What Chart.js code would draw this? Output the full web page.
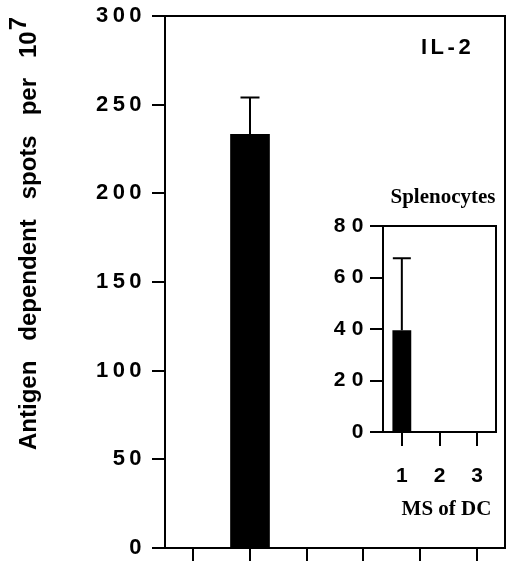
<!DOCTYPE html>
<html>
<head>
<meta charset="utf-8">
<script src="https://cdn.jsdelivr.net/npm/chart.js@4.4.0/dist/chart.umd.min.js"></script>
<style>
  body { margin: 0; background: #fff; }
  #wrap { position: relative; width: 506px; height: 561px; }
  #main { position: absolute; left: 0; top: 0; }
  #inset { position: absolute; left: 320px; top: 180px; }
</style>
</head>
<body>
<div id="wrap">
  <canvas id="main" width="506" height="561"></canvas>
  <canvas id="inset" width="186" height="345"></canvas>
</div>
<script>
// main panel (IL-2): six groups on the x axis, only the second one responds
const mainCategories = ["g1", "g2", "g3", "g4", "g5", "g6"];
const mainValues = [null, 233.5, null, null, null, null];
const mainErrTop = [null, 254, null, null, null, null];
const mainTicks = [0, 50, 100, 150, 200, 250, 300];

// inset: splenocytes, MS of DC
const insetCategories = ["1", "2", "3"];
const insetValues = [39.5, null, null];
const insetErrTop = [67.5, null, null];
const insetTicks = [0, 20, 40, 60, 80];

const sans = "'Liberation Sans', Arial, Helvetica, sans-serif";
const serif = "'Liberation Serif', 'Times New Roman', serif";

// canvas gets reset on resize, so set the tick letter spacing before layout and draw
const spacing = {
    id: "spacing",
    beforeUpdate(chart, args, opts) { chart.ctx.letterSpacing = opts.px + "px"; },
    beforeDraw(chart, args, opts) { chart.ctx.letterSpacing = opts.px + "px"; }
};

// one-sided (upper) error bars with a cap
const errorBars = {
    id: "errorBars",
    afterDatasetsDraw(chart, args, opts) {
        const ctx = chart.ctx;
        const y = chart.scales.y;
        const vals = chart.data.datasets[0].data;
        const meta = chart.getDatasetMeta(0);
        ctx.save();
        ctx.strokeStyle = "#000";
        ctx.lineWidth = 2;
        meta.data.forEach((bar, i) => {
            if (opts.tops[i] == null || vals[i] == null) return;
            const yTop = y.getPixelForValue(opts.tops[i]);
            const yVal = y.getPixelForValue(vals[i]);
            ctx.beginPath();
            ctx.moveTo(bar.x, yVal);
            ctx.lineTo(bar.x, yTop);
            ctx.moveTo(bar.x - opts.cap, yTop);
            ctx.lineTo(bar.x + opts.cap, yTop);
            ctx.stroke();
        });
        ctx.restore();
    }
};

// free text: drawn without the tick letter spacing
const labels = {
    id: "labels",
    afterDraw(chart, args, opts) {
        const ctx = chart.ctx;
        ctx.save();
        ctx.fillStyle = "#000";
        opts.items.forEach(t => {
            ctx.save();
            ctx.letterSpacing = (t.spacing || 0) + "px";
            ctx.font = t.font;
            ctx.textAlign = t.align || "left";
            ctx.textBaseline = "alphabetic";
            ctx.translate(t.x, t.y);
            if (t.rotate) ctx.rotate(t.rotate);
            ctx.fillText(t.text, 0, 0);
            if (t.sup) {
                const w = ctx.measureText(t.text).width;
                ctx.fillText(t.sup, w + 1, -10);
            }
            ctx.restore();
        });
        ctx.restore();
    }
};

const axisLine = { color: "#000", width: 2 };
const tickGrid = (len) => ({ offset: false, drawOnChartArea: false, tickLength: len, color: "#000", lineWidth: 2 });
const frameOnly = { grid: { display: false, drawTicks: false }, ticks: { display: false }, border: axisLine };
// no extra room for half labels, the frame is placed by the layout padding
const noPad = s => { s.paddingTop = 0; s.paddingBottom = 0; s.paddingLeft = 0; s.paddingRight = 0; };

new Chart(document.getElementById("main"), {
    type: "bar",
    data: {
        labels: mainCategories,
        datasets: [{ data: mainValues, backgroundColor: "#000", barPercentage: 0.7, categoryPercentage: 1 }]
    },
    options: {
        responsive: false,
        animation: false,
        layout: { padding: { top: 16, right: 1, left: 0, bottom: 0 } },
        plugins: {
            legend: { display: false },
            tooltip: { enabled: false },
            spacing: { px: 4.4 },
            errorBars: { tops: mainErrTop, cap: 9.5 },
            labels: {
                items: [
                    { text: "Antigen   dependent   spots   per   10", sup: "7", x: 36, y: 450, rotate: -Math.PI / 2, font: "bold 24px " + sans },
                    { text: "IL-2", x: 421, y: 54, spacing: 3.5, font: "bold 22px " + sans }
                ]
            }
        },
        scales: {
            x: {
                afterFit: s => { noPad(s); s.height = 13; },
                grid: tickGrid(13),
                border: axisLine,
                ticks: { display: false }
            },
            x2: Object.assign({ position: "top", afterFit: noPad }, frameOnly),
            y: {
                min: 0, max: 300,
                afterBuildTicks: s => { s.ticks = mainTicks.map(v => ({ value: v })); },
                afterFit: s => { noPad(s); s.width = 165; },
                grid: tickGrid(13),
                border: axisLine,
                ticks: { color: "#000", padding: 6, font: { family: sans, weight: "bold", size: 22 } }
            },
            y2: Object.assign({ position: "right", afterFit: noPad }, frameOnly)
        }
    },
    plugins: [spacing, errorBars, labels]
});

new Chart(document.getElementById("inset"), {
    type: "bar",
    data: {
        labels: insetCategories,
        datasets: [{ data: insetValues, backgroundColor: "#000", barPercentage: 0.5, categoryPercentage: 1 }]
    },
    options: {
        responsive: false,
        animation: false,
        layout: { padding: { top: 46, right: 10, left: 0, bottom: 0 } },
        plugins: {
            legend: { display: false },
            tooltip: { enabled: false },
            spacing: { px: 6.5 },
            errorBars: { tops: insetErrTop, cap: 9 },
            labels: {
                items: [
                    { text: "Splenocytes", x: 123, y: 23, align: "center", font: "bold 21px " + serif },
                    { text: "MS of DC", x: 126.5, y: 335, align: "center", font: "bold 21px " + serif }
                ]
            }
        },
        scales: {
            x: {
                afterFit: s => { noPad(s); s.height = 93; },
                grid: tickGrid(14),
                border: axisLine,
                ticks: { color: "#000", padding: 18, labelOffset: 3.25, font: { family: sans, weight: "bold", size: 21 } }
            },
            x2: Object.assign({ position: "top", afterFit: noPad }, frameOnly),
            y: {
                min: 0, max: 80,
                afterBuildTicks: s => { s.ticks = insetTicks.map(v => ({ value: v })); },
                afterFit: s => { noPad(s); s.width = 63; },
                grid: tickGrid(13),
                border: axisLine,
                ticks: { color: "#000", padding: 0, font: { family: sans, weight: "bold", size: 21 } }
            },
            y2: Object.assign({ position: "right", afterFit: noPad }, frameOnly)
        }
    },
    plugins: [spacing, errorBars, labels]
});
</script>
</body>
</html>
